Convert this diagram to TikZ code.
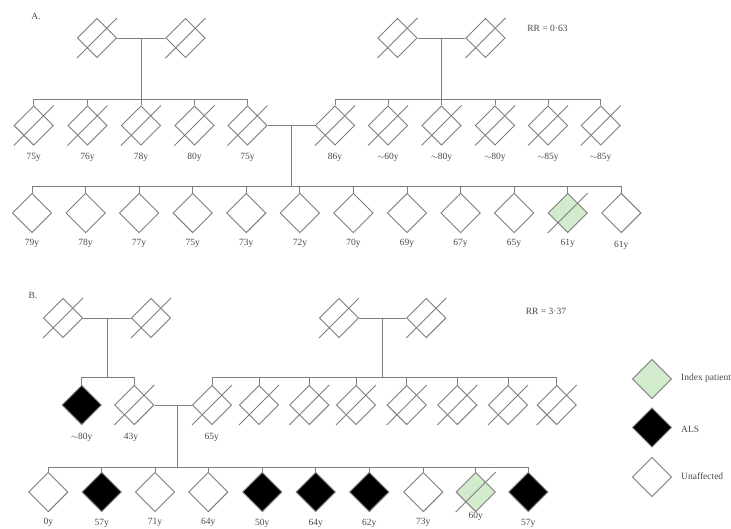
\documentclass[tikz,border=0pt]{standalone}
\usepackage{fontspec}
\setmainfont{Liberation Serif}
\usetikzlibrary{shapes.geometric,backgrounds}
\definecolor{lc}{HTML}{7E7E7E}
\definecolor{tc}{HTML}{4A4A4A}
\definecolor{ig}{HTML}{D3EBCD}
\newcommand{\dslash}[1]{\draw[ln] (#1.center) ++(-20,20) -- ++(40,-40);}
\begin{document}
\begin{tikzpicture}[x=1pt,y=-1pt,
 pd/.style={diamond,draw=lc,line width=0.9pt,minimum width=39.5pt,minimum height=39.5pt,inner sep=0pt},
 un/.style={pd,fill=white},
 al/.style={pd,fill=black},
 ix/.style={pd,fill=ig},
 ln/.style={draw=lc,line width=0.9pt},
 lbl/.style={font=\fontsize{9.5}{11}\selectfont,text=tc,inner sep=0pt},
]
\useasboundingbox[fill=white] (0,0) rectangle (731,528);

% ---------------- A ----------------
\node[lbl] (tA) at (36,16) {A.};
\node[lbl] (rrA) at (547.5,28) {RR = 0·63};

\node[un] (a1) at (97,38) {};
\node[un] (a2) at (185.5,38) {};
\node[un] (a3) at (397.5,38) {};
\node[un] (a4) at (485.5,38) {};

\coordinate (s1) at (0,99);
\coordinate (s2) at (0,186);

\foreach \n/\x/\t in {p1/33.7/75y,p2/87.5/76y,p3/141/78y,p4/194.5/80y,p5/247.5/75y,
  q1/335/86y,q2/388/{$\sim$60y},q3/441.5/{$\sim$80y},q4/495/{$\sim$80y},q5/548/{$\sim$85y},q6/600.7/{$\sim$85y}}{
  \node[un] (\n) at (\x,125.5) {};
  \node[lbl] (l\n) at (\x,157) {\t};
}

\foreach \n/\x/\t in {r1/32/79y,r2/85.6/78y,r3/139.1/77y,r4/192.7/75y,r5/246.3/73y,r6/299.9/72y,
  r7/353.4/70y,r8/407/69y,r9/460.6/67y,r10/514.1/65y}{
  \node[un] (\n) at (\x,213) {};
  \node[lbl] (l\n) at (\x,243.5) {\t};
}
\node[ix] (r11) at (567.7,213) {};
\node[lbl] (lr11) at (567.7,243.5) {61y};
\node[un] (r12) at (621.3,213) {};
\node[lbl] (lr12) at (621.3,245) {61y};

\foreach \n in {a1,a2,a3,a4,p1,p2,p3,p4,p5,q1,q2,q3,q4,q5,q6,r11}{\dslash{\n}}

\draw[ln] (a1.east) -- (a2.west) coordinate[midway] (m1);
\draw[ln] (m1) -- (m1 |- s1);
\draw[ln] (a3.east) -- (a4.west) coordinate[midway] (m2);
\draw[ln] (m2) -- (m2 |- s1);
\draw[ln] (p1.north |- s1) -- (p5.north |- s1);
\draw[ln] (q1.north |- s1) -- (q6.north |- s1);
\foreach \n in {p1,p2,p3,p4,p5,q1,q2,q3,q4,q5,q6}{\draw[ln] (\n.north) -- (\n.north |- s1);}

\draw[ln] (p5.east) -- (q1.west) coordinate[midway] (m3);
\draw[ln] (m3) -- (m3 |- s2);
\draw[ln] (r1.north |- s2) -- (r12.north |- s2);
\foreach \n in {r1,r2,r3,r4,r5,r6,r7,r8,r9,r10,r11,r12}{\draw[ln] (\n.north) -- (\n.north |- s2);}

% ---------------- B ----------------
\node[lbl] (tB) at (33,295) {B.};
\node[lbl] (rrB) at (546,311) {RR = 3·37};

\node[un] (b1) at (63,318) {};
\node[un] (b2) at (151,318) {};
\node[un] (b3) at (339,318) {};
\node[un] (b4) at (426.3,318) {};

\coordinate (s3) at (0,377);
\coordinate (s4) at (0,467);

\node[al] (u1) at (81.7,405) {};
\node[un] (u2) at (134.3,405) {};
\node[lbl] (lu1) at (81.7,437) {$\sim$80y};
\node[lbl] (lu2) at (131,437) {43y};

\foreach \n/\x in {v1/212,v2/259,v3/309.3,v4/356,v5/406.7,v6/457.3,v7/508,v8/556.7}{
  \node[un] (\n) at (\x,405) {};
}
\node[lbl] (lv1) at (211.7,437) {65y};

\foreach \n/\x/\t in {w1/48.3/0y,w3/155/71y,w4/208.3/64y,w8/423.3/73y}{
  \node[un] (\n) at (\x,492) {};
  \node[lbl] (l\n) at (\x,522.5) {\t};
}
\foreach \n/\x/\t in {w2/101.7/57y,w5/262.3/50y,w6/315.7/64y,w7/369.3/62y,w10/528.3/57y}{
  \node[al] (\n) at (\x,492) {};
  \node[lbl] (l\n) at (\x,523) {\t};
}
\node[ix] (w9) at (475.7,492) {};
\node[lbl] (lw9) at (475.7,516) {60y};

\foreach \n in {b1,b2,b3,b4,u2,v1,v2,v3,v4,v5,v6,v7,v8,w9}{\dslash{\n}}
\begin{pgfonlayer}{background}
\foreach \n in {u1,w2,w5,w6,w7,w10}{\dslash{\n}}
\end{pgfonlayer}

\draw[ln] (b1.east) -- (b2.west) coordinate[midway] (m4);
\draw[ln] (m4) -- (m4 |- s3);
\draw[ln] (u1.north |- s3) -- (u2.north |- s3);
\foreach \n in {u1,u2}{\draw[ln] (\n.north) -- (\n.north |- s3);}

\draw[ln] (b3.east) -- (b4.west) coordinate[midway] (m5);
\draw[ln] (m5) -- (m5 |- s3);
\draw[ln] (v1.north |- s3) -- (v8.north |- s3);
\foreach \n in {v1,v2,v3,v4,v5,v6,v7,v8}{\draw[ln] (\n.north) -- (\n.north |- s3);}

\coordinate (m6) at (177.7,405);
\draw[ln] (u2.east) -- (v1.west);
\draw[ln] (m6) -- (m6 |- s4);
\draw[ln] (w1.north |- s4) -- (w10.north |- s4);
\foreach \n in {w1,w2,w3,w4,w5,w6,w7,w8,w9,w10}{\draw[ln] (\n.north) -- (\n.north |- s4);}

% ---------------- legend ----------------
\node[ix] (g1) at (652,379) {};
\node[al] (g2) at (652,427.5) {};
\node[un] (g3) at (652,477) {};
\node[lbl,anchor=west] (tg1) at (681,378.5) {Index patient};
\node[lbl,anchor=west] (tg2) at (681,429) {ALS};
\node[lbl,anchor=west] (tg3) at (681,476.5) {Unaffected};
\end{tikzpicture}
\end{document}
